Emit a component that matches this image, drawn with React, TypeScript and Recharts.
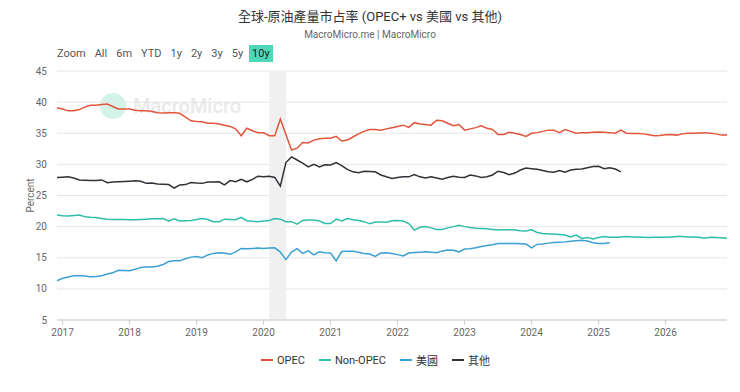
import React from "react";
import {
  CartesianGrid,
  Legend,
  Line,
  LineChart,
  ReferenceArea,
  XAxis,
  YAxis,
} from "recharts";

// monthly categories, 2016-12 .. 2026-12
const MONTHS: string[] = (() => {
  const out: string[] = ["2016-12"];
  for (let y = 2017; y <= 2026; y++) {
    for (let m = 1; m <= 12; m++) out.push(`${y}-${String(m).padStart(2, "0")}`);
  }
  return out;
})();

const YEAR_TICKS = [
  "2017-01", "2018-01", "2019-01", "2020-01", "2021-01",
  "2022-01", "2023-01", "2024-01", "2025-01", "2026-01",
];
const Y_TICKS = [5, 10, 15, 20, 25, 30, 35, 40, 45];
const RANGE_BUTTONS = ["Zoom", "All", "6m", "YTD", "1y", "2y", "3y", "5y", "10y"];
const SERIES_ORDER = ["OPEC", "Non-OPEC", "美國", "其他"];

const OPEC = [
  39.1, 38.9, 38.6, 38.6, 38.8, 39.2, 39.5, 39.5, 39.6, 39.7, 39.3, 38.9,
  38.9, 38.9, 38.7, 38.6, 38.6, 38.5, 38.3, 38.25, 38.3, 38.3, 38.2, 37.6,
  37.0, 36.9, 36.85, 36.6, 36.6, 36.5, 36.3, 36.1, 35.7, 34.6, 35.8, 35.4,
  35.1, 35.1, 34.6, 34.6, 37.3, 34.8, 32.3, 32.6, 33.5, 33.45, 33.9, 34.1,
  34.2, 34.2, 34.5, 33.75, 33.9, 34.4, 34.9, 35.3, 35.6, 35.6, 35.5, 35.7,
  35.9, 36.1, 36.3, 35.95, 36.7, 36.5, 36.4, 36.3, 37.1, 37.0, 36.6, 36.2,
  36.4, 35.5, 35.7, 35.9, 36.2, 35.8, 35.6, 34.8, 34.8, 35.15, 35.0, 34.8,
  34.5, 35.0, 35.1, 35.3, 35.5, 35.5, 35.1, 35.6, 35.3, 35.0, 35.1, 35.1,
  35.15, 35.2, 35.15, 35.1, 35.0, 35.5, 35.0, 34.95, 34.95, 34.9, 34.75, 34.6,
  34.65, 34.75, 34.8, 34.7, 34.9, 35.0, 35.0, 35.05, 35.1, 35.0, 34.9, 34.7,
  34.7,
];

const NON_OPEC = [
  21.85, 21.75, 21.7, 21.8, 21.85, 21.6, 21.5, 21.45, 21.3, 21.2, 21.15, 21.15,
  21.15, 21.1, 21.1, 21.15, 21.2, 21.25, 21.25, 21.3, 20.9, 21.25, 20.9, 20.95,
  21.0, 21.15, 21.3, 21.15, 20.8, 20.8, 21.2, 21.15, 21.1, 21.5, 20.95, 20.85,
  20.8, 20.9, 21.0, 21.3, 21.2, 20.8, 20.8, 20.4, 21.0, 21.05, 21.05, 20.9,
  20.5, 20.5, 21.2, 20.9, 21.3, 21.1, 21.0, 20.8, 20.45, 20.75, 20.75, 20.7,
  20.95, 21.0, 20.9, 20.5, 19.45, 19.9, 20.0, 19.8, 19.55, 19.55, 19.8, 20.0,
  20.2, 20.0, 19.85, 19.75, 19.7, 19.65, 19.55, 19.45, 19.5, 19.5, 19.45, 19.35,
  19.3, 19.5, 19.05, 18.9, 18.8, 18.8, 18.75, 18.65, 18.35, 18.65, 18.1, 18.25,
  18.0, 18.25, 18.4, 18.3, 18.3, 18.35, 18.4, 18.35, 18.35, 18.3, 18.25, 18.3,
  18.3, 18.3, 18.35, 18.4, 18.4, 18.35, 18.35, 18.3, 18.15, 18.3, 18.25, 18.2,
  18.15,
];

// 美國 — last reading 2025-03
const US = [
  11.3, 11.7, 11.9, 12.1, 12.1, 12.05, 11.95, 12.0, 12.1, 12.4, 12.6, 13.0,
  12.95, 12.9, 13.15, 13.45, 13.5, 13.5, 13.65, 13.9, 14.4, 14.5, 14.5, 14.85,
  15.1, 15.2, 15.0, 15.45, 15.7, 15.8, 15.75, 15.55, 15.95, 16.5, 16.45, 16.5,
  16.55, 16.5, 16.55, 16.6, 15.9, 14.7, 15.9, 16.45, 15.7, 16.1, 15.45, 15.95,
  15.8, 15.75, 14.5, 16.0, 16.05, 16.05, 15.9, 15.7, 15.6, 15.2, 15.75, 15.8,
  15.7, 15.5, 15.3, 15.75, 15.85, 15.9, 15.95, 15.9, 15.8, 16.1, 16.25, 16.2,
  15.95, 16.4, 16.45, 16.6, 16.8, 16.95, 17.1, 17.3, 17.3, 17.3, 17.3, 17.25,
  17.2, 16.6, 17.15, 17.2, 17.35, 17.45, 17.5, 17.55, 17.65, 17.75, 17.8, 17.7,
  17.4, 17.3, 17.3, 17.4,
];

// 其他 — last reading 2025-05
const OTHER = [
  27.9, 27.95, 28.0, 27.8, 27.5, 27.45, 27.4, 27.4, 27.5, 27.05, 27.15, 27.2,
  27.25, 27.3, 27.35, 27.3, 26.95, 27.0, 26.85, 26.8, 26.75, 26.2, 26.7, 26.75,
  27.1, 27.0, 26.95, 27.15, 27.15, 27.2, 26.7, 27.4, 27.2, 27.6, 27.2, 27.6,
  28.1, 28.0, 28.1, 27.9, 26.5, 30.3, 31.2, 30.7, 30.2, 29.6, 30.0, 29.6,
  29.95, 29.9, 30.3, 29.8, 29.2, 28.8, 28.65, 28.9, 28.85, 28.8, 28.3, 28.0,
  27.75, 27.9, 28.0, 28.0, 28.35, 28.0, 27.8, 28.0, 27.8, 27.6, 27.9, 28.1,
  27.95, 27.9, 28.3, 28.15, 27.9, 28.0, 28.3, 28.9, 28.7, 28.35, 28.6, 29.1,
  29.4, 29.3, 29.2, 29.0, 28.8, 28.75, 29.0, 28.75, 29.1, 29.2, 29.25, 29.45,
  29.65, 29.7, 29.3, 29.45, 29.25, 28.8,
];

const data = MONTHS.map((month, i) => ({
  month,
  opec: OPEC[i],
  nonOpec: NON_OPEC[i],
  us: US[i] ?? null,
  other: OTHER[i] ?? null,
}));

const FONT = "Roboto, 'Noto Sans CJK TC', sans-serif";
const TICK = { fontSize: 10, fill: "#666", fontFamily: FONT };

function LegendRow(props: any) {
  const items = [...(props.payload ?? [])].sort(
    (a: any, b: any) => SERIES_ORDER.indexOf(a.value) - SERIES_ORDER.indexOf(b.value),
  );
  return (
    <div
      style={{
        display: "flex",
        justifyContent: "center",
        alignItems: "center",
        gap: 14,
        height: 20,
        fontSize: 11,
        color: "#333",
        fontFamily: FONT,
      }}
    >
      {items.map((it: any) => (
        <span key={it.value} style={{ display: "flex", alignItems: "center" }}>
          <span
            style={{
              display: "inline-block",
              width: 12,
              height: 2,
              background: it.color,
              marginRight: 4,
            }}
          />
          {it.value}
        </span>
      ))}
    </div>
  );
}

export default function App() {
  return (
    <div
      style={{
        position: "relative",
        width: 740,
        height: 392,
        background: "#fff",
        fontFamily: FONT,
        overflow: "hidden",
      }}
    >
      <style>{"body{margin:0}"}</style>

      <div
        style={{
          position: "absolute",
          top: 8,
          width: 740,
          textAlign: "center",
          fontSize: 13,
          color: "#333",
          lineHeight: "18px",
        }}
      >
        全球-原油產量市占率 (OPEC+ vs 美國 vs 其他)
      </div>
      <div
        style={{
          position: "absolute",
          top: 29,
          width: 740,
          textAlign: "center",
          fontSize: 10,
          color: "#666",
          lineHeight: "12px",
        }}
      >
        MacroMicro.me | MacroMicro
      </div>

      <div
        style={{
          position: "absolute",
          top: 45,
          left: 57,
          display: "flex",
          gap: 9,
          fontSize: 11,
          color: "#555",
          lineHeight: "17px",
        }}
      >
        {RANGE_BUTTONS.map((b) => (
          <span
            key={b}
            style={
              b === "10y"
                ? { background: "#4fd8b8", color: "#222", padding: "0 3px", marginLeft: -3 }
                : undefined
            }
          >
            {b}
          </span>
        ))}
      </div>

      {/* watermark */}
      <div
        style={{
          position: "absolute",
          top: 93,
          left: 100,
          display: "flex",
          alignItems: "center",
          gap: 7,
        }}
      >
        <div
          style={{
            width: 26,
            height: 26,
            borderRadius: 13,
            background: "#d4f3e8",
          }}
        />
        <span style={{ fontSize: 20, color: "#e9e9e9", fontWeight: 500 }}>MacroMicro</span>
      </div>

      <div style={{ position: "absolute", top: 0, left: 0 }}>
        <LineChart
          width={740}
          height={392}
          data={data}
          margin={{ top: 71, right: 13, left: 0, bottom: 22 }}
        >
          <CartesianGrid vertical={false} stroke="#e6e6e6" />
          <ReferenceArea x1="2020-02" x2="2020-05" fill="#f0f0f0" fillOpacity={1} stroke="none" />
          <XAxis
            dataKey="month"
            ticks={YEAR_TICKS}
            interval={0}
            tickFormatter={(v: string) => v.slice(0, 4)}
            tick={TICK}
            tickLine={{ stroke: "#ccc" }}
            axisLine={{ stroke: "#ccc" }}
            tickSize={5}
            tickMargin={4}
          />
          <YAxis
            domain={[5, 45]}
            ticks={Y_TICKS}
            width={57}
            tick={TICK}
            tickLine={false}
            axisLine={false}
            tickMargin={4}
            label={{
              value: "Percent",
              angle: -90,
              position: "center",
              dx: 2,
              style: { fontSize: 10, fill: "#666", fontFamily: FONT },
            }}
          />
          <Legend
            content={<LegendRow />}
            verticalAlign="bottom"
            wrapperStyle={{ left: 12, width: 727 }}
          />
          <Line
            name="OPEC"
            dataKey="opec"
            type="linear"
            stroke="#e2553b"
            strokeWidth={1.5}
            dot={false}
            isAnimationActive={false}
          />
          <Line
            name="Non-OPEC"
            dataKey="nonOpec"
            type="linear"
            stroke="#2ebeaa"
            strokeWidth={1.5}
            dot={false}
            isAnimationActive={false}
          />
          <Line
            name="美國"
            dataKey="us"
            type="linear"
            stroke="#3ca0d2"
            strokeWidth={1.5}
            dot={false}
            isAnimationActive={false}
          />
          <Line
            name="其他"
            dataKey="other"
            type="linear"
            stroke="#2f3238"
            strokeWidth={1.5}
            dot={false}
            isAnimationActive={false}
          />
        </LineChart>
      </div>
    </div>
  );
}
